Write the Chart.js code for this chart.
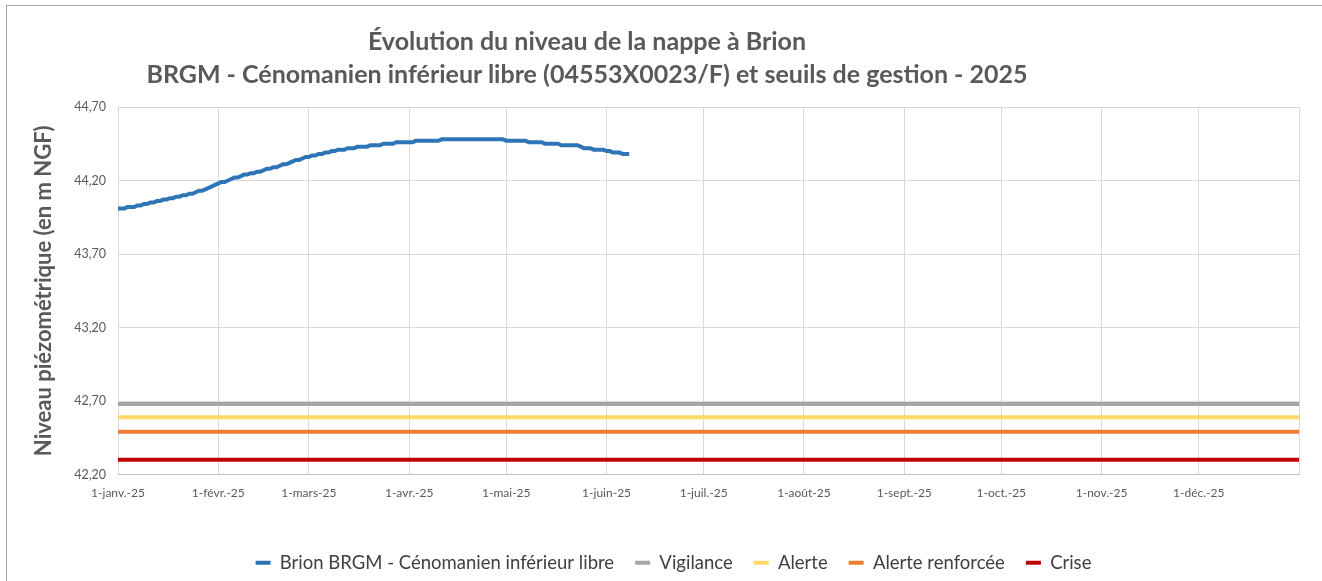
<!DOCTYPE html>
<html lang="fr">
<head>
<meta charset="utf-8">
<title>Évolution du niveau de la nappe à Brion</title>
<script src="https://cdn.jsdelivr.net/npm/chart.js@4.4.1/dist/chart.umd.min.js"></script>
<style>
  html, body { margin: 0; padding: 0; background: #fff; }
  #wrap { position: relative; width: 1322px; height: 581px; overflow: hidden; }
  #frame { position: absolute; left: 6px; top: 5px; width: 1340px; height: 600px; border: 1px solid #a6a6a6; box-sizing: border-box; }
  #title { position: absolute; left: 0; top: 24px; width: 1174px; text-align: center; font: bold 25px Lato, sans-serif; line-height: 33px; color: #595959; }
  canvas { position: absolute; left: 0; top: 0; }
</style>
</head>
<body>
<div id="wrap">
  <canvas id="chart" width="1322" height="581"></canvas>
  <div id="frame"></div>
  <div id="title">Évolution du niveau de la nappe à Brion<br>BRGM - Cénomanien inférieur libre (04553X0023/F) et seuils de gestion - 2025</div>
</div>
<script>
'use strict';

// jour de l'année (0 = 1er janvier) de chaque début de mois
var monthStarts = [0, 31, 59, 90, 120, 151, 181, 212, 243, 273, 304, 334, 365];
var monthLabels = ['1-janv.-25', '1-févr.-25', '1-mars-25', '1-avr.-25', '1-mai-25', '1-juin-25',
  '1-juil.-25', '1-août-25', '1-sept.-25', '1-oct.-25', '1-nov.-25', '1-déc.-25'];

var yMin = 42.2;
var yMax = 44.7;
var yStep = 0.5;

// niveau journalier (m NGF) depuis le 1er janvier
var brionLevels = [
  // janvier
  44.01, 44.01, 44.01, 44.02, 44.02, 44.02, 44.03, 44.03, 44.04, 44.04,
  44.05, 44.05, 44.06, 44.06, 44.07, 44.07, 44.08, 44.08, 44.09, 44.09,
  44.10, 44.10, 44.11, 44.11, 44.12, 44.13, 44.13, 44.14, 44.15, 44.16, 44.17,
  // fevrier
  44.18, 44.19, 44.19, 44.20, 44.21, 44.22, 44.22, 44.23, 44.24, 44.24,
  44.25, 44.25, 44.26, 44.26, 44.27, 44.28, 44.28, 44.29, 44.29, 44.30,
  44.31, 44.31, 44.32, 44.33, 44.34, 44.34, 44.35, 44.36,
  // mars
  44.36, 44.37, 44.37, 44.38, 44.38, 44.39, 44.39, 44.40, 44.40, 44.41,
  44.41, 44.41, 44.42, 44.42, 44.42, 44.43, 44.43, 44.43, 44.43, 44.44,
  44.44, 44.44, 44.44, 44.45, 44.45, 44.45, 44.45, 44.46, 44.46, 44.46, 44.46,
  // avril
  44.46, 44.46, 44.47, 44.47, 44.47, 44.47, 44.47, 44.47, 44.47, 44.47,
  44.48, 44.48, 44.48, 44.48, 44.48, 44.48, 44.48, 44.48, 44.48, 44.48,
  44.48, 44.48, 44.48, 44.48, 44.48, 44.48, 44.48, 44.48, 44.48, 44.48,
  // mai
  44.47, 44.47, 44.47, 44.47, 44.47, 44.47, 44.47, 44.46, 44.46, 44.46,
  44.46, 44.46, 44.45, 44.45, 44.45, 44.45, 44.45, 44.44, 44.44, 44.44,
  44.44, 44.44, 44.44, 44.43, 44.42, 44.42, 44.42, 44.41, 44.41, 44.41, 44.41,
  // juin
  44.40, 44.40, 44.39, 44.39, 44.39, 44.38, 44.38, 44.38
];

var seuilVigilance = 42.68;
var seuilAlerte = 42.59;
var seuilRenforcee = 42.49;
var seuilCrise = 42.30;

var font = 'Lato, sans-serif';
var textColor = '#595959';

function seuil(value) {
  return [{ x: monthStarts[0], y: value }, { x: monthStarts[monthStarts.length - 1], y: value }];
}

var brionPoints = [];
for (var i = 0; i < brionLevels.length; i++) {
  brionPoints.push({ x: i, y: brionLevels[i] });
}

function lineSet(label, data, color) {
  return {
    label: label,
    data: data,
    borderColor: color,
    backgroundColor: color,
    borderWidth: 4,
    pointRadius: 0,
    tension: 0,
    fill: false
  };
}

// la légende est un peu décalée vers la droite dans l'original
var legendShift = {
  id: 'legendShift',
  afterLayout: function (chart) {
    chart.legend.left += 20;
    chart.legend.right += 20;
    chart.legend.top += 2;
    chart.legend.bottom += 2;
  }
};

var ctx = document.getElementById('chart').getContext('2d');
new Chart(ctx, {
  type: 'line',
  data: {
    datasets: [
      lineSet('Brion BRGM - Cénomanien inférieur libre', brionPoints, '#2E75B6'),
      lineSet('Vigilance', seuil(seuilVigilance), '#A5A5A5'),
      lineSet('Alerte', seuil(seuilAlerte), '#FFD966'),
      lineSet('Alerte renforcée', seuil(seuilRenforcee), '#ED7D31'),
      lineSet('Crise', seuil(seuilCrise), '#C00000')
    ]
  },
  plugins: [legendShift],
  options: {
    responsive: false,
    animation: false,
    layout: { padding: { left: 8, right: 23, top: 107, bottom: 1 } },
    plugins: {
      tooltip: { enabled: false },
      title: { display: false },
      legend: {
        position: 'bottom',
        labels: {
          boxWidth: 15,
          boxHeight: 4,
          padding: 21,
          color: '#404040',
          font: { family: font, size: 18.5 },
          generateLabels: function (chart) {
            var items = Chart.defaults.plugins.legend.labels.generateLabels(chart);
            items.forEach(function (it) { it.lineWidth = 0; });
            return items;
          }
        }
      }
    },
    scales: {
      x: {
        type: 'linear',
        min: monthStarts[0],
        max: monthStarts[monthStarts.length - 1],
        afterBuildTicks: function (scale) {
          scale.ticks = monthStarts.map(function (v) { return { value: v }; });
        },
        afterFit: function (scale) { scale.height = 56; },
        ticks: {
          autoSkip: false,
          maxRotation: 0,
          color: textColor,
          font: { family: font, size: 12 },
          padding: 11,
          callback: function (value, index) {
            return monthLabels[index] || '';
          }
        },
        grid: { color: '#D9D9D9', lineWidth: 1, drawTicks: false },
        border: { color: '#BFBFBF' }
      },
      y: {
        min: yMin,
        max: yMax,
        afterFit: function (scale) { scale.width = 110; },
        ticks: {
          stepSize: yStep,
          color: textColor,
          font: { family: font, size: 12.5 },
          padding: 12,
          callback: function (value) {
            return value.toFixed(2).replace('.', ',');
          }
        },
        title: {
          display: true,
          text: 'Niveau piézométrique (en m NGF)',
          color: textColor,
          font: { family: font, size: 22, weight: 'bold' },
          padding: { top: 23, bottom: 0 }
        },
        grid: { color: '#D9D9D9', lineWidth: 1, drawTicks: false },
        border: { display: false }
      }
    }
  }
});
</script>
</body>
</html>
